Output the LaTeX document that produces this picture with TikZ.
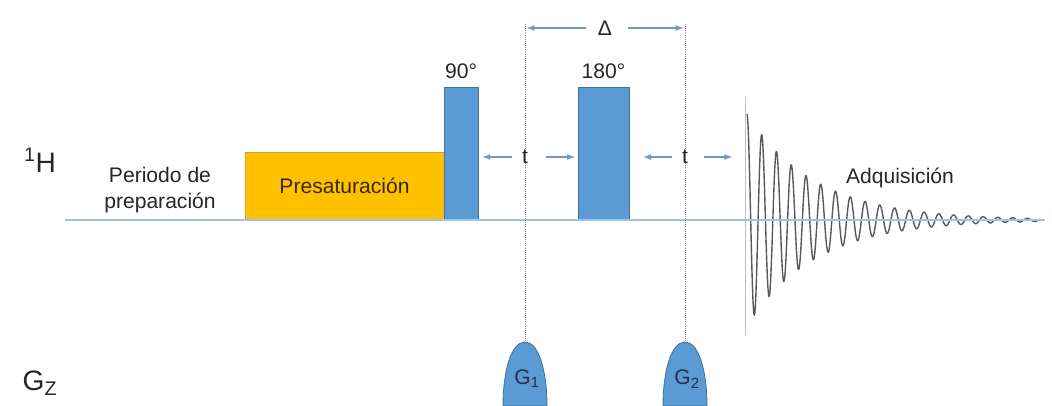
\documentclass[tikz,border=0pt]{standalone}
\usepackage{fontspec}
\setmainfont{Liberation Sans}
\usetikzlibrary{arrows.meta,positioning,calc}
\definecolor{pulse}{HTML}{5B9BD5}
\definecolor{pulseedge}{HTML}{41719C}
\definecolor{presat}{HTML}{FFC000}
\definecolor{presatedge}{HTML}{C9A23A}
\definecolor{presattext}{HTML}{3B2A05}
\definecolor{baseline}{HTML}{9DC3E6}
\definecolor{marker}{HTML}{7399C6}
\definecolor{guide}{HTML}{8A8A8A}
\definecolor{fid}{HTML}{595959}
\definecolor{axis}{HTML}{BFBFBF}
\definecolor{ink}{HTML}{262626}
\definecolor{gradtext}{HTML}{1F3050}
\tikzset{
  rfpulse/.style={draw=pulseedge, fill=pulse, line width=0.6pt,
                  inner sep=0pt, outer sep=0pt},
  satblock/.style={draw=presatedge, fill=presat, line width=0.6pt,
                   inner sep=0pt, outer sep=0pt, text=presattext,
                   font=\fontsize{15}{18}\selectfont},
  lbl/.style={font=\fontsize{15}{18}\selectfont, text=ink, inner sep=1pt, align=center},
  chan/.style={font=\fontsize{20}{24}\selectfont, text=ink, inner sep=0pt},
  delay/.style={-{Latex[length=2mm,width=1.5mm]}, draw=marker, line width=0.8pt},
  guideline/.style={draw=guide, densely dotted, line width=0.5pt},
  gradpulse/.style={draw=pulseedge, fill=pulse, line width=0.6pt},
  fidline/.style={draw=fid, line width=1pt, line join=round}
}

\begin{document}
\begin{tikzpicture}[x=0.025cm,y=-0.025cm]
        \useasboundingbox (0,0) rectangle (1052,406);

        % channel labels
        \node[chan] (hlabel)  at (40,160) {\textsuperscript{1}H};
        \node[chan] (gzlabel) at (40,383) {G\textsubscript{Z}};

        % 1H row
        \coordinate (b0)  at (65,220);
        \coordinate (b1)  at (1045,220);
        \coordinate (acq) at (745,220);
        \node[lbl] (prep) at (160,190) {Periodo de\\preparación};
        \node[satblock,minimum width=4.975cm,minimum height=1.7cm] (presat) at (344.5,186) {Presaturación};
        \node[rfpulse,minimum width=0.85cm,minimum height=3.325cm]  (p90)  at (461,153.5) {};
        \node[rfpulse,minimum width=1.275cm,minimum height=3.325cm] (p180) at (603.5,153.5) {};
        \node[lbl,above=5pt of p90]  (l90)  {90°};
        \node[lbl,above=5pt of p180] (l180) {180°};

        % acquisition
        \draw[draw=axis,line width=0.6pt] ($(acq)+(0,-123)$) -- ($(acq)+(0,115)$);
        \draw[fidline] plot[domain=747:1040,samples=600]
              (\x,{220-106*exp(-(\x-747)/68)*cos(24.39*(\x-747))});
        \draw[draw=baseline,line width=0.8pt] (b0) -- (b1);
        \node[lbl] (adq) at (900,178) {Adquisición};

        % gradients
        \coordinate (g1) at (525,342);
        \coordinate (g2) at (685,342);
        \draw[gradpulse] (503,406) .. controls (503,372) and (511,342) .. (g1)
                         .. controls (539,342) and (547,372) .. (547,406) -- cycle;
        \draw[gradpulse] (663,406) .. controls (663,372) and (671,342) .. (g2)
                         .. controls (699,342) and (707,372) .. (707,406) -- cycle;
        \node[lbl,text=gradtext] (g1lbl) at (527,379) {G\textsubscript{1}};
        \node[lbl,text=gradtext] (g2lbl) at (687,379) {G\textsubscript{2}};

        % timing marks
        \coordinate (d1) at (525,24);
        \coordinate (d2) at (685,24);
        \draw[guideline] (d1) -- (g1);
        \draw[guideline] (d2) -- (g2);
        \node[lbl,fill=white] (delta) at (605,28) {Δ};
        \draw[delay] ([xshift=-7pt]delta.west) -- ([xshift=1pt]d1 |- delta);
        \draw[delay] ([xshift=10pt]delta.east) -- ([xshift=-1pt]d2 |- delta);
        \node[lbl] (t1) at (525,157) {t};
        \node[lbl] (t2) at (685,157) {t};
        \draw[delay] ([xshift=-6pt]t1.west) -- ([xshift=3pt]p90.east |- t1);
        \draw[delay] ([xshift=12pt]t1.east) -- ([xshift=-2pt]p180.west |- t1);
        \draw[delay] ([xshift=-6pt]t2.west) -- ([xshift=10pt]p180.east |- t2);
        \draw[delay] ([xshift=10pt]t2.east) -- ([xshift=-9pt]acq |- t2);
      \end{tikzpicture}
\end{document}
